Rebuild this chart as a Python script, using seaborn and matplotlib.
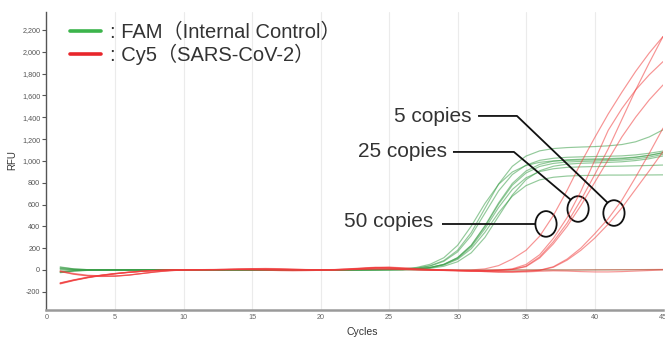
import numpy as np
import pandas as pd
import matplotlib
matplotlib.use('Agg')
import matplotlib.pyplot as plt
import seaborn as sns
from matplotlib.lines import Line2D
from matplotlib.patches import Ellipse
from matplotlib.font_manager import FontProperties

# Ciclos de amplificacao
cycles = list(range(1, 46))

# FAM (controle interno) - RFU por ciclo
fam_g1 = [28, 10, 3, 1, 0, 0, 1, 2, 2, 1, 0, 0, -1, 0, 1, 2, 2, 1, 0, 0, 1, 2, 3, 4, 5,
          8, 17, 39, 86, 180, 342, 565, 788, 950, 1044, 1092, 1113, 1122, 1127, 1131, 1138, 1150, 1175, 1220, 1285]
fam_g2 = [-22, -9, -3, -1, 0, 0, 0, 1, 1, 2, 2, 1, 0, 0, -1, -1, 0, 1, 1, 2, 1, 1, 2, 3, 4,
          7, 16, 36, 79, 165, 315, 520, 725, 875, 961, 1005, 1024, 1033, 1037, 1040, 1042, 1046, 1055, 1070, 1090]
fam_g3 = [24, 9, 3, 1, 0, 1, 1, 0, 0, 1, 2, 2, 1, 0, 0, 0, 1, 1, 0, 0, 1, 1, 1, 2, 3,
          4, 10, 23, 52, 113, 227, 405, 615, 793, 907, 968, 997, 1010, 1015, 1018, 1021, 1026, 1035, 1052, 1075]
fam_g4 = [-18, -7, -2, 0, 0, 0, 1, 1, 1, 0, 0, 1, 2, 1, 0, -1, 0, 0, 1, 2, 2, 1, 1, 2, 3,
          4, 10, 23, 51, 111, 223, 397, 603, 777, 889, 949, 977, 990, 995, 998, 1002, 1008, 1018, 1035, 1060]
fam_g5 = [15, 5, 2, 0, 0, 0, 0, 0, 1, 1, 1, 0, 0, 1, 1, 0, 0, 1, 1, 1, 0, 0, 1, 1, 2,
          3, 7, 15, 34, 75, 157, 298, 493, 687, 828, 910, 951, 970, 978, 982, 986, 992, 1003, 1020, 1045]
fam_g6 = [-25, -10, -4, -1, 0, 1, 1, 1, 0, 0, 1, 1, 1, 0, 0, 1, 1, 0, 0, 1, 1, 2, 2, 2, 3,
          4, 10, 22, 49, 105, 212, 377, 573, 738, 845, 902, 928, 941, 945, 948, 950, 952, 955, 958, 962]
fam_g7 = [5, 2, 0, 0, 0, 0, 0, 1, 1, 1, 0, 0, 0, 1, 1, 1, 0, 0, 0, 1, 1, 1, 1, 2, 3,
          4, 9, 20, 45, 97, 194, 345, 525, 676, 773, 826, 850, 861, 866, 868, 870, 870, 871, 871, 872]
fam_g8 = [-10, -4, -1, 0, 0, 0, 1, 1, 2, 1, 0, 0, 1, 1, 0, 0, 1, 2, 2, 1, 1, 2, 3, 4, 6,
          10, 23, 52, 112, 225, 401, 609, 785, 898, 958, 987, 1000, 1005, 1008, 1010, 1013, 1020, 1032, 1050, 1075]
fam_ntc = [12, 4, 1, 0, 0, 0, 0, 1, 1, 0, 0, 0, 1, 1, 0, 0, 0, 1, 1, 0, 0, 0, 1, 1, 0,
           0, 0, 1, 1, 0, 0, -1, -1, 0, 0, 1, 1, 0, 0, 1, 1, 2, 2, 3, 3]

# Cy5 (SARS-CoV-2) - RFU por ciclo
cy5_50a = [-125, -95, -70, -50, -35, -22, -12, -5, 0, 2,
           3, 4, 5, 8, 10, 9, 6, 3, 2, 2, 4, 10, 18, 25, 22, 12, 5, 2, 0, 0, 0,
           10, 40, 100, 180, 310, 500, 730, 980, 1210, 1430, 1630, 1820, 1990, 2140]
cy5_25a = [-120, -92, -68, -48, -33, -20, -11, -4, 0, 2,
           3, 3, 4, 5, 4, 2, 0, -2, -3, -2, 0, 3, 6, 8, 6, 3, 0, -2, -4, -5, -5, -3, 0,
           10, 50, 140, 290, 480, 720, 1000, 1280, 1480, 1650, 1790, 1910]
cy5_25b = [-128, -97, -72, -52, -36, -23, -13, -6, -1, 1,
           2, 3, 5, 8, 12, 14, 12, 8, 4, 2, 3, 8, 15, 22, 20, 12, 5, 0, -4, -8, -10, -8, -4,
           5, 35, 120, 260, 430, 640, 870, 1110, 1380, 1650, 1900, 2140]
cy5_25c = [-118, -90, -66, -47, -32, -20, -11, -4, 0, 2,
           3, 4, 4, 3, 1, -2, -6, -8, -6, -3, 0, 4, 10, 14, 12, 6, 2, -2, -5, -8, -9, -7, -3,
           5, 30, 110, 240, 400, 590, 800, 1010, 1220, 1400, 1560, 1696]
cy5_5a = [-8, -32, -48, -54, -55, -46, -32, -17, -6, 0,
          2, 3, 4, 6, 8, 8, 6, 4, 2, 1, 2, 5, 12, 20, 24, 18, 10, 4, 0, -4, -8, -12, -15, -15, -10, -2,
          30, 100, 200, 330, 470, 640, 850, 1070, 1300]
cy5_5b = [-12, -38, -52, -57, -56, -47, -31, -16, -6, 0,
          1, 2, 3, 4, 4, 3, 1, 0, 0, 1, 3, 7, 14, 22, 26, 20, 12, 5, 0, -5, -10, -14, -17, -17, -12, -4,
          25, 90, 180, 290, 420, 570, 740, 910, 1085]
cy5_neg1 = [-15, -40, -55, -60, -58, -48, -33, -18, -7, -1,
            1, 2, 2, 3, 3, 2, 1, 0, 0, 0, 1, 3, 6, 9, 10, 8, 5, 2, 0, -5,
            -10, -15, -20, -20, -18, -12, -8, -10, -15, -18, -18, -15, -10, -5, 0]
cy5_neg2 = [-122, -93, -69, -49, -34, -21, -12, -5, -1, 1,
            2, 3, 5, 8, 10, 11, 9, 6, 3, 1, 2, 6, 12, 18, 16, 9, 3, 0, -1, -2,
            -2, -2, -1, 0, 0, 0, 0, 0, 1, 1, 2, 2, 3, 4, 5]

fam_wells = [fam_g1, fam_g2, fam_g3, fam_g4, fam_g5, fam_g6, fam_g7, fam_g8, fam_ntc]
cy5_wells = [cy5_50a, cy5_25a, cy5_25b, cy5_25c, cy5_5a, cy5_5b, cy5_neg1, cy5_neg2]

# Montar tabela longa
linhas = []
for i, w in enumerate(fam_wells):
    for c, v in zip(cycles, w):
        linhas.append({'Cycles': c, 'RFU': v, 'dye': 'FAM', 'well': f'F{i}'})
for i, w in enumerate(cy5_wells):
    for c, v in zip(cycles, w):
        linhas.append({'Cycles': c, 'RFU': v, 'dye': 'Cy5', 'well': f'C{i}'})
df = pd.DataFrame(linhas)

sns.set_style('white')
plt.rcParams['font.family'] = ['Liberation Sans', 'Noto Sans CJK JP', 'DejaVu Sans']

cor_fam = '#3a9e48'
cor_cy5 = '#f03c3c'

fig = plt.figure(figsize=(6.65, 3.38), dpi=100)
ax = fig.add_axes([46.5 / 665, 28 / 338, 616.5 / 665, 298 / 338])

sns.lineplot(data=df[df['dye'] == 'FAM'], x='Cycles', y='RFU', units='well', estimator=None,
             color=cor_fam, alpha=0.55, linewidth=0.85, ax=ax, legend=False)
sns.lineplot(data=df[df['dye'] == 'Cy5'], x='Cycles', y='RFU', units='well', estimator=None,
             color=cor_cy5, alpha=0.55, linewidth=0.85, ax=ax, legend=False)

ax.set_xlim(0, 45)
ax.set_ylim(-367, 2365)
ax.set_xticks(range(0, 46, 5))
ax.set_yticks(range(-200, 2201, 200))
ax.set_yticklabels([f'{v:,}' for v in range(-200, 2201, 200)])
ax.tick_params(axis='y', labelsize=5.2, colors='#555555', length=3, width=0.8, pad=1.5, left=True)
ax.tick_params(axis='x', labelsize=5.2, colors='#666666', length=0, pad=3)
ax.set_xlabel('')
ax.set_ylabel('')

# Grade vertical
for xv in range(5, 45, 5):
    ax.axvline(xv, color='#ebebeb', lw=0.8, zorder=0)

for s in ['top', 'right']:
    ax.spines[s].set_visible(False)
ax.spines['left'].set_color('#555555')
ax.spines['left'].set_linewidth(1.0)
ax.spines['bottom'].set_color('#9a9a9a')
ax.spines['bottom'].set_linewidth(1.8)

fig.text(12 / 665, 1 - 160 / 338, 'RFU', fontsize=7, color='#333333',
         rotation=90, ha='center', va='center')
fig.text(362 / 665, 1 - 332 / 338, 'Cycles', fontsize=7.5, color='#333333',
         ha='center', va='center')

# Legenda
fp = FontProperties(family=['Liberation Sans', 'Noto Sans CJK JP'], size=14.5)
handles = [Line2D([0], [0], color='#3cb44b', lw=2.6),
           Line2D([0], [0], color='#e8262b', lw=2.6)]
leg = ax.legend(handles, [': FAM\uff08Internal Control\uff09', ': Cy5\uff08SARS-CoV-2\uff09'],
                prop=fp, frameon=False, loc='upper left',
                bbox_to_anchor=(0.022, 0.996), handlelength=1.55, handletextpad=0.45,
                labelspacing=0.05, borderpad=0)
for t in leg.get_texts():
    t.set_color('#333333')

# Anotacoes das copias
txt = dict(fontsize=15, color='#333333', ha='right', va='center')
ax.text(31.0, 1405, '5 copies', **txt)
ax.text(29.2, 1085, '25 copies', **txt)
ax.text(28.2, 440, '50 copies', **txt)

lk = dict(color='#111111', lw=1.3, solid_capstyle='butt')
ax.plot([31.5, 34.34, 40.98], [1412, 1412, 614], **lk)
ax.plot([29.67, 34.12, 38.28], [1082, 1082, 642], **lk)
ax.plot([28.87, 35.66], [422, 422], **lk)

for cx, cy in [(41.42, 522), (38.80, 559), (36.46, 422)]:
    ax.add_patch(Ellipse((cx, cy), 1.55, 235, fill=False, ec='#111111', lw=1.3))

plt.savefig('out.png', dpi=100)
plt.close()
